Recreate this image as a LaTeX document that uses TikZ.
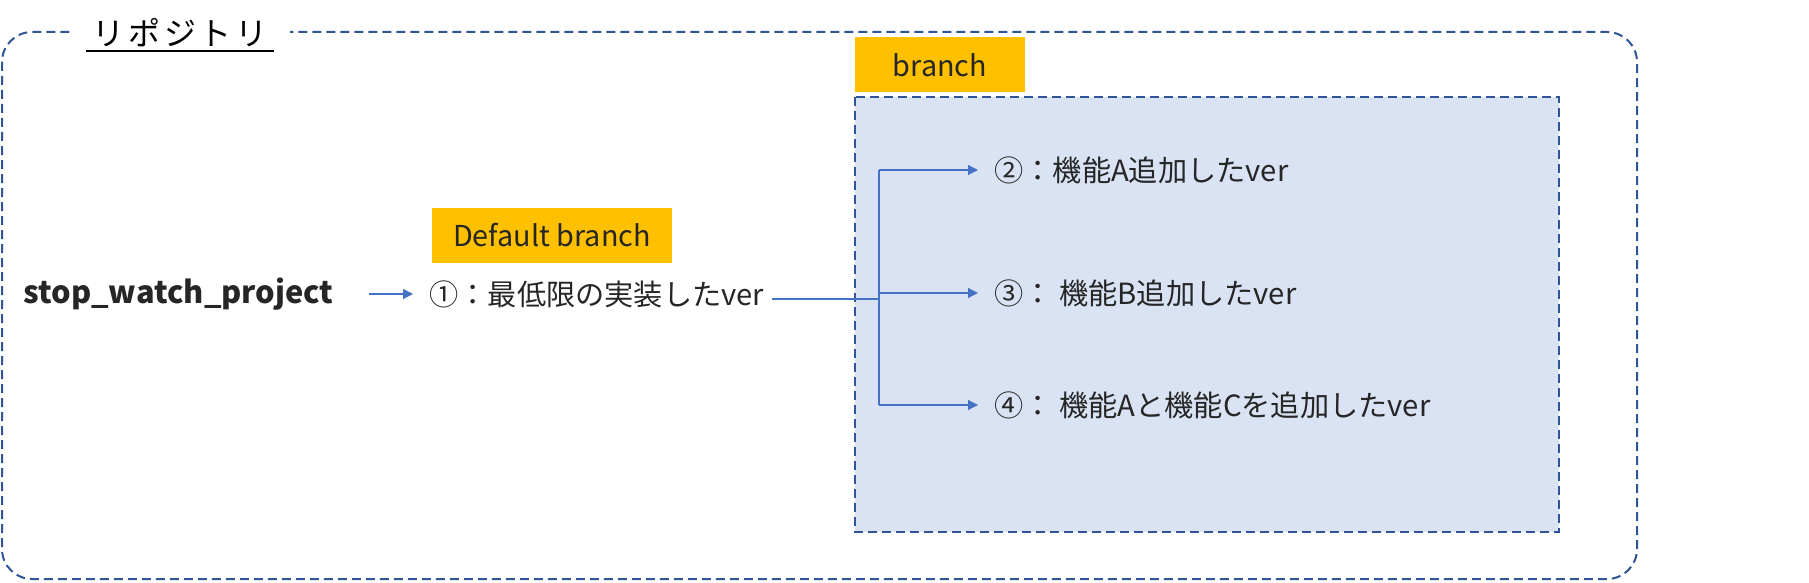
\documentclass[tikz,border=0pt]{standalone}
\usepackage{fontspec}
\setmainfont{Noto Sans CJK JP}
\usetikzlibrary{arrows.meta,calc}
\definecolor{dashblue}{HTML}{2F5597}
\definecolor{arrblue}{HTML}{4472C4}
\definecolor{boxfill}{HTML}{DAE3F3}
\definecolor{gold}{HTML}{FFC000}
\definecolor{txt}{HTML}{262626}
\begin{document}
\begin{tikzpicture}[x=0.5pt,y=-0.5pt,
  dashbox/.style={draw=dashblue,line width=1pt,dash pattern=on 4.5pt off 2.5pt},
  tag/.style={fill=gold,text=txt,font=\fontsize{14.4pt}{16pt}\selectfont,inner sep=0pt},
  ver/.style={anchor=west,inner sep=0pt,text=txt,font=\fontsize{14.6pt}{16pt}\selectfont},
  arr/.style={draw=arrblue,line width=0.6pt,-{Triangle[length=5pt,width=5pt]}}]
\useasboundingbox (0,0) rectangle (1809,583);
% outer repository frame
\draw[dashbox,rounded corners=15pt] (2,32) rectangle (1637,579);
\node[fill=white,minimum width=110pt,minimum height=20pt,inner sep=0pt,
  font=\fontsize{16pt}{18pt}\selectfont] (title) at (180,33) {\addfontfeature{LetterSpace=12}リポジトリ};
\draw[line width=1pt] (86,51) -- (274,51);
% branch area
\draw[dashbox,fill=boxfill] (855,97) rectangle (1559,532);
\node[tag,minimum width=85pt,minimum height=27.5pt] (br) at (940,65) {branch};
\node[tag,minimum width=120pt,minimum height=27.5pt] (db) at (552,235.5) {Default branch};
% main items
\node[anchor=west,inner sep=0pt,text=txt,font=\fontsize{15.4pt}{17pt}\selectfont\bfseries] (swp) at (23,294) {stop\_watch\_project};
\node[ver] (v1) at (429,294) {①：最低限の実装したver};
\node[ver] (v2) at (994,170) {②：機能A追加したver};
\node[ver] (v3) at (994,293) {③： 機能B追加したver};
\node[ver] (v4) at (994,405) {④： 機能Aと機能Cを追加したver};
\coordinate (ta) at (879,170);
\coordinate (tb) at (879,293);
\coordinate (tc) at (879,405);
\coordinate (j) at (879,299);
\draw[arr] ($(swp.east)+(35,0)$) -- ($(v1.west)+(-16,0)$);
\draw[draw=arrblue,line width=1.1pt] ($(v1.east)+(8,5)$) -- (j);
\draw[draw=arrblue,line width=0.6pt] (ta) -- (tc);
\draw[arr] (ta) -- ($(v2.west)+(-16,0)$);
\draw[arr] (tb) -- ($(v3.west)+(-16,0)$);
\draw[arr] (tc) -- ($(v4.west)+(-16,0)$);
\end{tikzpicture}
\end{document}
